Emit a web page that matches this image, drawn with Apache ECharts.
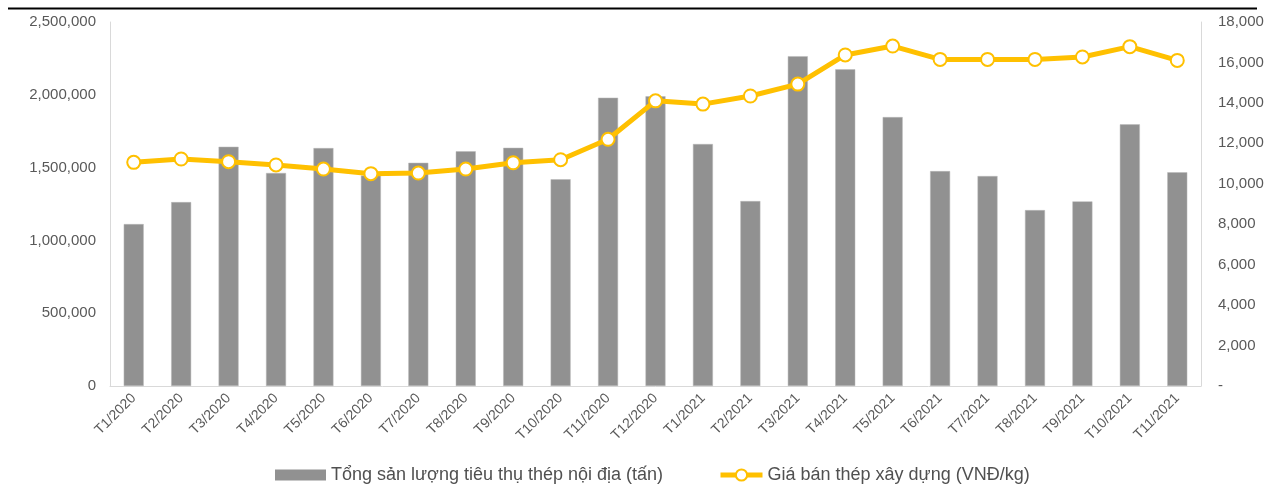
<!DOCTYPE html>
<html>
<head>
<meta charset="utf-8">
<script src="https://cdn.jsdelivr.net/npm/echarts@6/dist/echarts.min.js"></script>
<style>
  html, body { margin: 0; padding: 0; background: #fff; }
  #chart { width: 1267px; height: 487px; }
</style>
</head>
<body>
<div id="chart"></div>
<script>
// Tháng
const categories = ['T1/2020','T2/2020','T3/2020','T4/2020','T5/2020','T6/2020','T7/2020','T8/2020','T9/2020','T10/2020','T11/2020','T12/2020',
  'T1/2021','T2/2021','T3/2021','T4/2021','T5/2021','T6/2021','T7/2021','T8/2021','T9/2021','T10/2021','T11/2021'];

// Tổng sản lượng tiêu thụ thép nội địa (tấn)
const volume = [1112000, 1263000, 1643000, 1463000, 1634000, 1445000, 1533000, 1612000, 1636000, 1420000, 1980000, 1990000,
  1662000, 1270000, 2265000, 2175000, 1847000, 1476000, 1442000, 1208000, 1268000, 1797000, 1468000];

// Giá bán thép xây dựng (VNĐ/kg)
const price = [11060, 11225, 11090, 10930, 10730, 10500, 10530, 10730, 11040, 11190, 12200, 14100,
  13940, 14340, 14930, 16370, 16810, 16150, 16150, 16150, 16270, 16780, 16100];

const volumeName = 'Tổng sản lượng tiêu thụ thép nội địa (tấn)';
const priceName = 'Giá bán thép xây dựng (VNĐ/kg)';

const fmt = v => v.toString().replace(/\B(?=(\d{3})+(?!\d))/g, ',');

const chart = echarts.init(document.getElementById('chart'));
chart.setOption({
  animation: false,
  textStyle: { fontFamily: 'Liberation Sans, Arial, sans-serif' },
  grid: { left: 110, right: 66, top: 22, bottom: 101, containLabel: false },
  legend: [
    {
      data: [{ name: volumeName, icon: 'rect', itemStyle: { borderWidth: 0, color: '#919191' } }],
      left: 270, top: 461,
      itemWidth: 51, itemHeight: 11,
      textStyle: { fontSize: 18, color: '#505050' }
    },
    {
      data: [{
        name: priceName,
        lineStyle: { width: 5, color: '#FFC000' },
        itemStyle: { color: '#ffffff', borderColor: '#FFC000', borderWidth: 2 }
      }],
      left: 713, top: 461,
      itemWidth: 42, itemHeight: 14,
      textStyle: { fontSize: 18, color: '#505050' }
    }
  ],
  xAxis: {
    type: 'category',
    data: categories,
    axisLine: { lineStyle: { color: '#d9d9d9', width: 1 } },
    axisTick: { show: false },
    axisLabel: { rotate: 45, color: '#595959', fontSize: 14, margin: 10, interval: 0 }
  },
  yAxis: [
    {
      type: 'value', min: 0, max: 2500000, interval: 500000,
      axisLine: { show: true, lineStyle: { color: '#d9d9d9' } },
      axisTick: { show: false },
      splitLine: { show: false },
      axisLabel: { color: '#595959', fontSize: 15, margin: 14, formatter: v => fmt(v) }
    },
    {
      type: 'value', min: 0, max: 18000, interval: 2000,
      position: 'right',
      axisLine: { show: true, lineStyle: { color: '#d9d9d9' } },
      axisTick: { show: false },
      splitLine: { show: false },
      axisLabel: { color: '#595959', fontSize: 15, margin: 17, formatter: v => v === 0 ? '-' : fmt(v) }
    }
  ],
  series: [
    {
      name: volumeName,
      type: 'bar',
      data: volume,
      barWidth: 20,
      itemStyle: { color: '#919191', borderColor: '#b8b8b8', borderWidth: 0.5 },
      z: 2
    },
    {
      name: priceName,
      type: 'line',
      yAxisIndex: 1,
      data: price,
      symbol: 'circle',
      symbolSize: 13,
      lineStyle: { color: '#FFC000', width: 5 },
      itemStyle: { color: '#ffffff', borderColor: '#FFC000', borderWidth: 2 },
      z: 3
    }
  ],
  graphic: [
    {
      type: 'line',
      shape: { x1: 8, y1: 8.5, x2: 1257, y2: 8.5 },
      style: { stroke: '#000000', lineWidth: 2 }
    }
  ]
});
</script>
</body>
</html>
